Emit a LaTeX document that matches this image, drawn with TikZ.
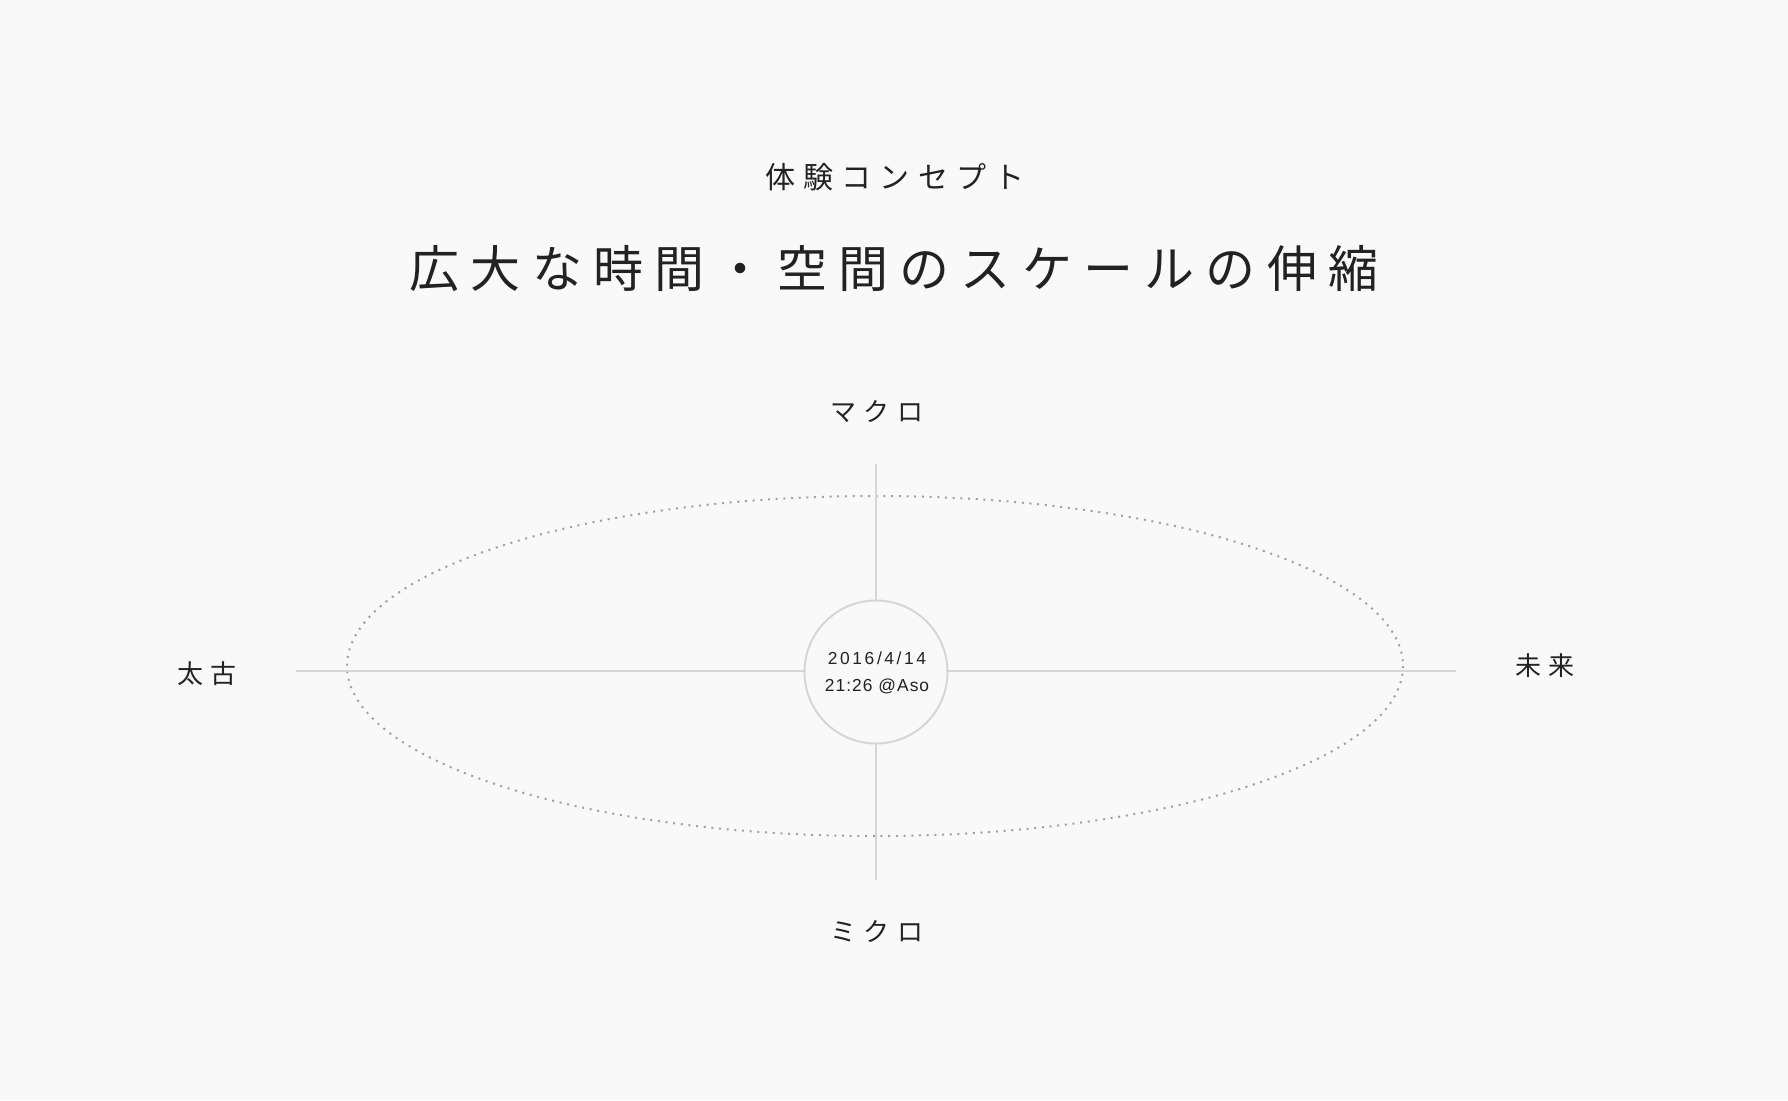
\documentclass[tikz,border=0pt]{standalone}
\usepackage{fontspec}
\newfontfamily\jpsub[LetterSpace=27]{Noto Sans CJK JP}
\newfontfamily\jptitle[LetterSpace=22.5]{Noto Sans CJK JP}
\newfontfamily\jplab[LetterSpace=28]{Noto Sans CJK JP}
\newfontfamily\datefont[LetterSpace=6]{Liberation Sans}
\newfontfamily\datewide[LetterSpace=15]{Liberation Sans}
\definecolor{bg}{HTML}{F9F9F9}
\definecolor{ink}{HTML}{222222}
\definecolor{axis}{HTML}{D6D6D6}
\definecolor{dotc}{HTML}{A0A0A0}
\tikzset{
  axisline/.style={draw=axis, line width=1pt},
  dotring/.style={draw=dotc, line width=1pt, dash pattern=on 1pt off 2.85pt},
  hub/.style={circle, draw=axis, line width=1pt, fill=bg, minimum size=71.5pt, inner sep=0pt},
  sublabel/.style={text=ink, font=\jpsub\fontsize{15pt}{18pt}\selectfont, inner sep=0pt},
  titlelabel/.style={text=ink, font=\jptitle\fontsize{25pt}{30pt}\selectfont, inner sep=0pt},
  axislabel/.style={text=ink, font=\jplab\fontsize{13pt}{16pt}\selectfont, inner sep=0pt},
  datelabel/.style={text=ink, font=\datefont\fontsize{8.7pt}{13.5pt}\selectfont, align=center, inner sep=0pt}
}
\begin{document}
\begin{tikzpicture}[x=0.5pt,y=-0.5pt]
\fill[bg] (0,0) rectangle (1788,1100);
\useasboundingbox (0,0) rectangle (1788,1100);
% title
\node[sublabel] (sub) at (895,177) {体験コンセプト};
\node[titlelabel] (title) at (894,269) {広大な時間・空間のスケールの伸縮};
% axes ends
\coordinate (top) at (876,464);
\coordinate (bot) at (876,880);
\coordinate (lft) at (296,671);
\coordinate (rgt) at (1456,671);
\draw[dotring] (875,666) ellipse [x radius=528, y radius=170];
\draw[axisline] (top) -- (bot);
\draw[axisline] (lft) -- (rgt);
\node[hub] (hub) at (876,672) {};
\node[datelabel] (date) at (877,673) {{\datewide 2016/4/14}\\21:26 @Aso};
% labels
\node[axislabel] (macro) at (877,412) {マクロ};
\node[axislabel] (micro) at (877,932) {ミクロ};
\node[axislabel] (past) at (207,674) {太古};
\node[axislabel] (future) at (1545,666) {未来};
\end{tikzpicture}
\end{document}
